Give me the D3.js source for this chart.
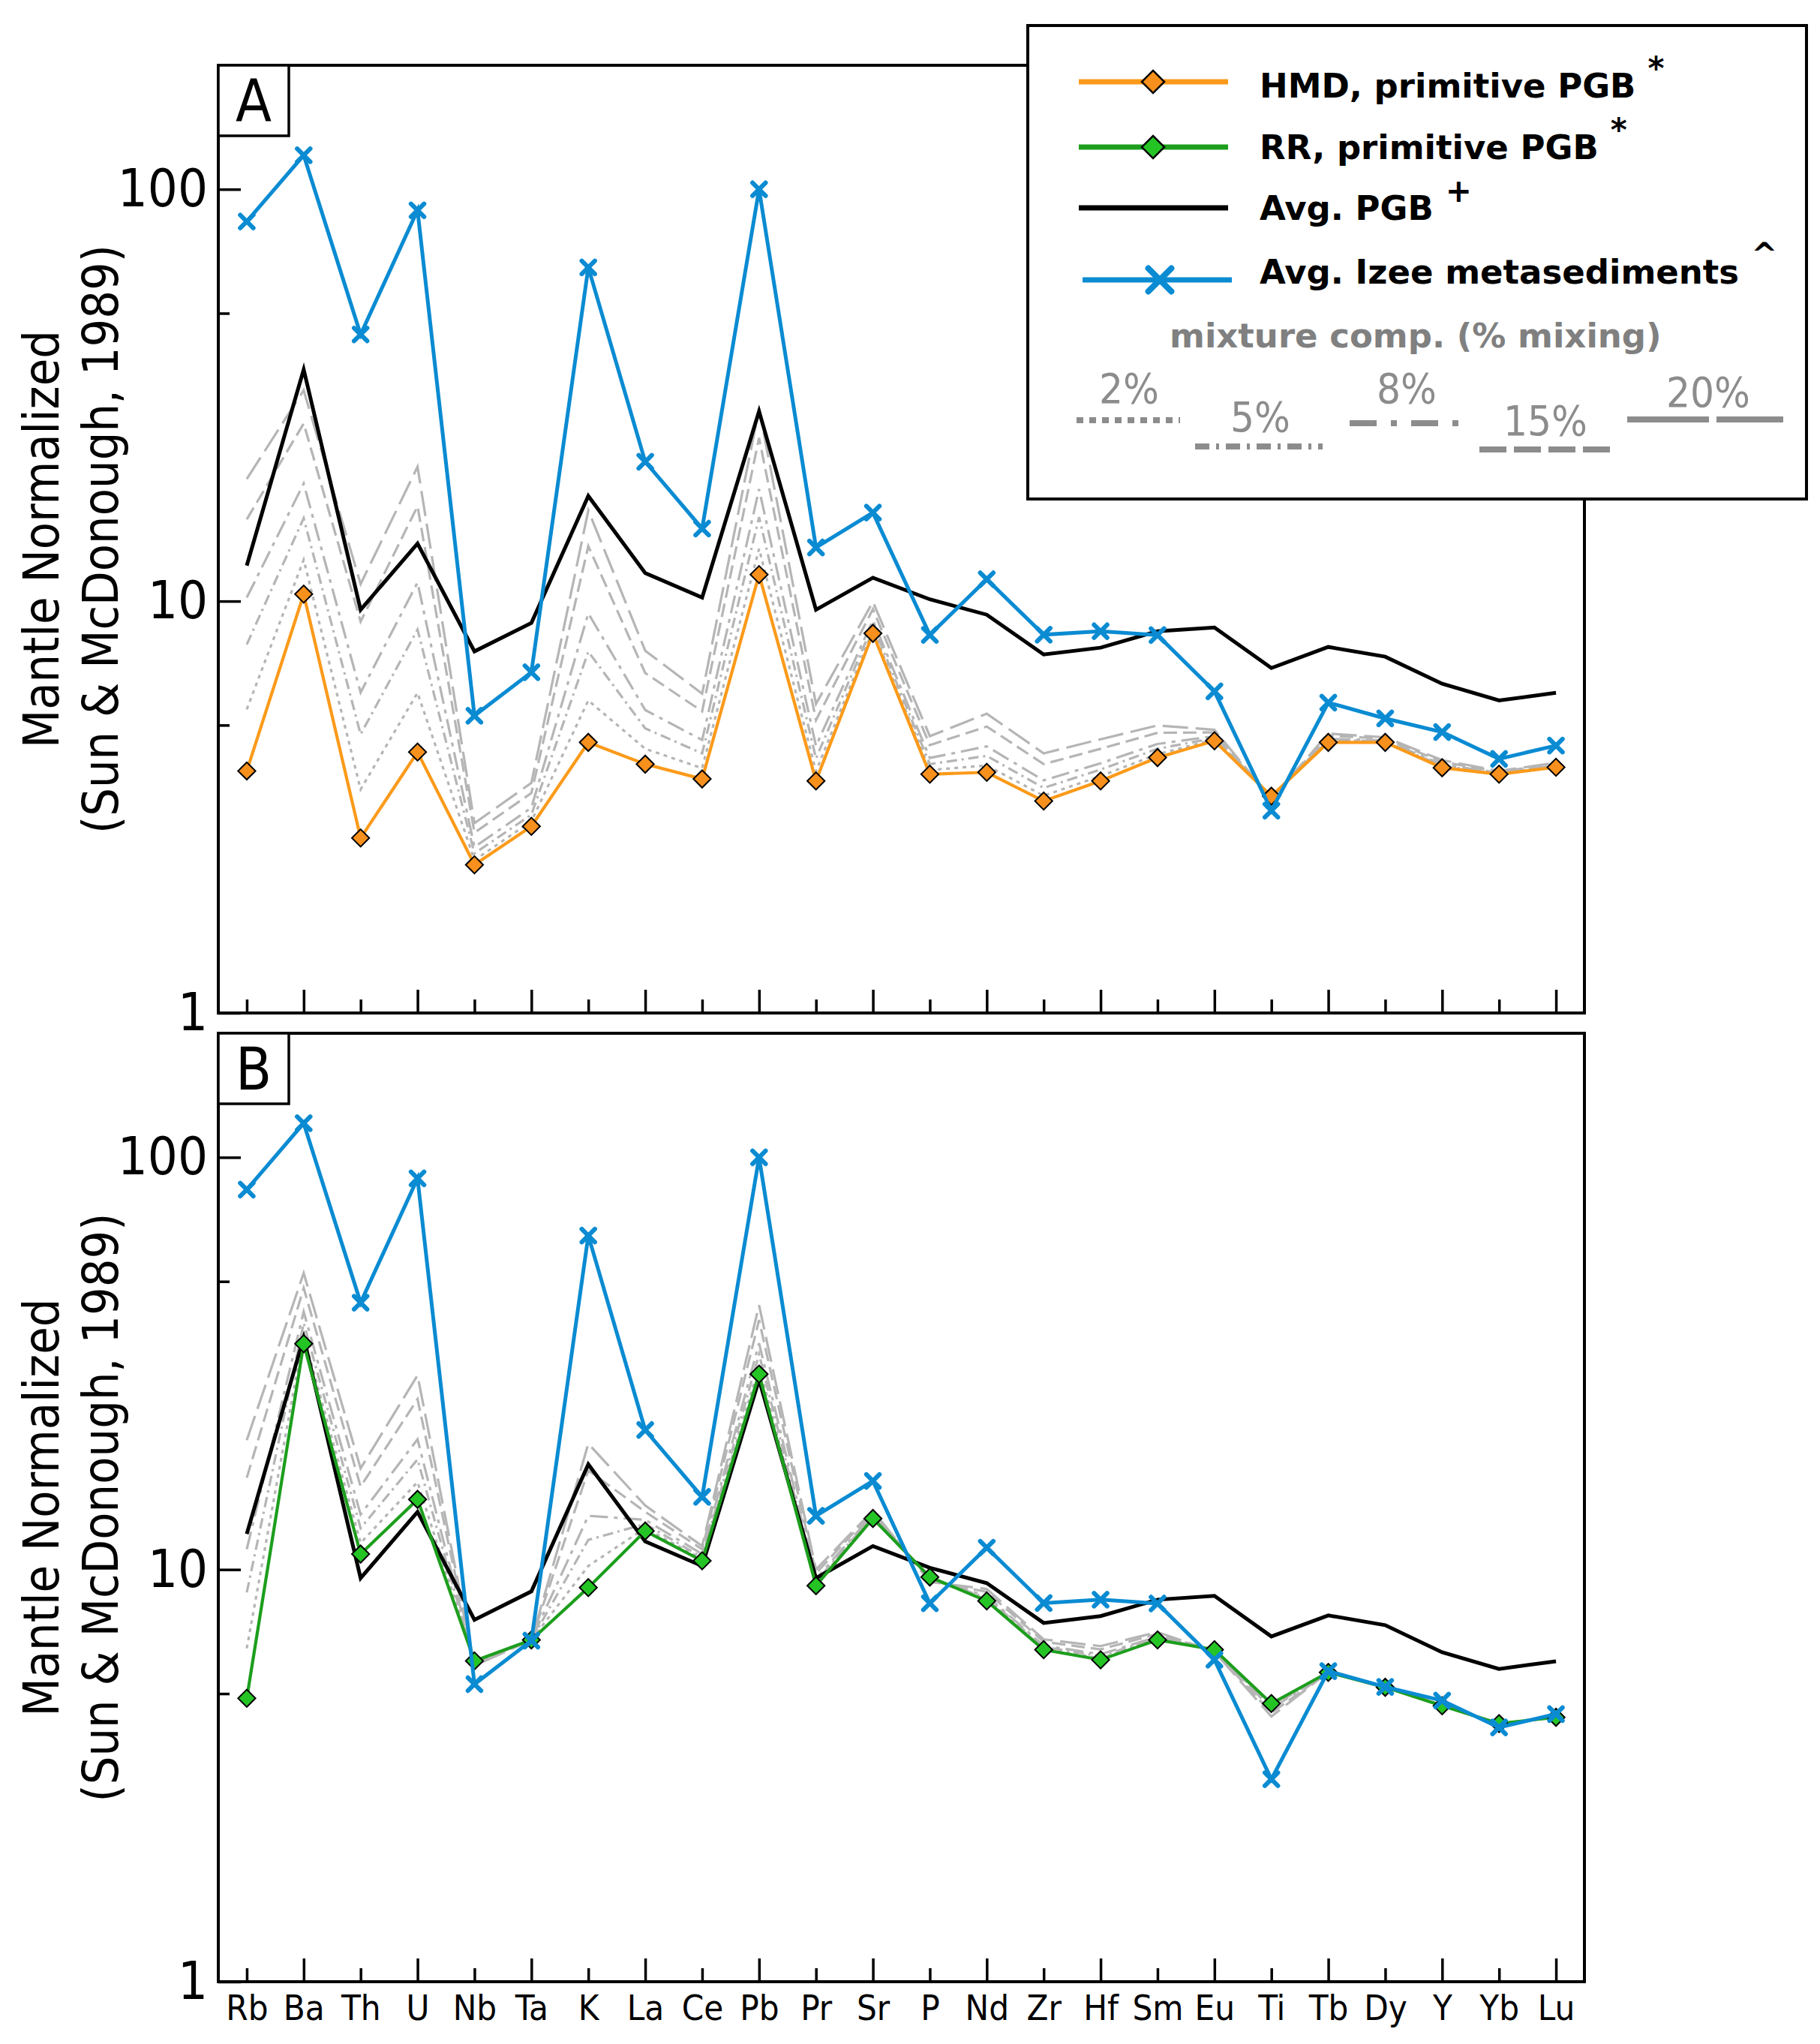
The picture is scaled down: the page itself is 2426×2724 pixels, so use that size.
<!DOCTYPE html>
<html>
<head>
<meta charset="utf-8">
<script src="https://cdn.jsdelivr.net/npm/d3@7"></script>
<style>
  body { margin: 0; background: #fff; }
  svg { display: block; }
</style>
</head>
<body>
<script>
// elements along the x axis
const elements = ["Rb","Ba","Th","U","Nb","Ta","K","La","Ce","Pb","Pr","Sr","P","Nd","Zr","Hf","Sm","Eu","Ti","Tb","Dy","Y","Yb","Lu"];

// mantle normalized values
const izee   = [83.5, 121, 44.4, 88.9, 5.27, 6.72, 64.6, 21.8, 15.0, 100, 13.5, 16.4, 8.28, 11.3, 8.29, 8.45, 8.27, 6.04, 3.10, 5.67, 5.19, 4.81, 4.14, 4.46];
const avgPGB = [12.2, 36.5, 9.53, 13.8, 7.55, 8.85, 18.0, 11.7, 10.2, 28.9, 9.53, 11.4, 10.1, 9.27, 7.42, 7.71, 8.45, 8.63, 6.88, 7.74, 7.33, 6.30, 5.74, 5.99];
const hmd    = [3.87, 10.4, 2.66, 4.30, 2.29, 2.84, 4.54, 4.02, 3.70, 11.6, 3.66, 8.35, 3.80, 3.84, 3.27, 3.66, 4.17, 4.58, 3.36, 4.54, 4.54, 3.94, 3.80, 3.95];
const rr     = [4.87, 35.3, 10.9, 14.8, 6.00, 6.75, 9.04, 12.4, 10.5, 29.8, 9.14, 13.3, 9.59, 8.39, 6.39, 6.04, 6.75, 6.39, 4.73, 5.63, 5.18, 4.67, 4.23, 4.38];

// mixture curves, panel A (HMD + Izee)
const mixA02 = [5.46, 12.6, 3.49, 5.99, 2.35, 2.92, 5.74, 4.38, 3.93, 13.4, 3.86, 8.51, 3.89, 3.99, 3.37, 3.76, 4.25, 4.61, 3.36, 4.56, 4.55, 3.96, 3.81, 3.96];
const mixA05 = [7.85, 15.9, 4.75, 8.53, 2.44, 3.03, 7.54, 4.91, 4.27, 16.0, 4.15, 8.75, 4.02, 4.21, 3.52, 3.90, 4.38, 4.65, 3.35, 4.60, 4.57, 3.98, 3.82, 3.98];
const mixA08 = [10.2, 19.3, 6.00, 11.1, 2.53, 3.15, 9.34, 5.44, 4.60, 18.7, 4.45, 8.99, 4.16, 4.44, 3.67, 4.04, 4.50, 4.70, 3.34, 4.63, 4.59, 4.01, 3.83, 3.99];
const mixA15 = [15.8, 27.0, 8.92, 17.0, 2.74, 3.42, 13.6, 6.69, 5.40, 24.9, 5.14, 9.56, 4.47, 4.96, 4.02, 4.38, 4.79, 4.80, 3.32, 4.71, 4.64, 4.07, 3.85, 4.03];
const mixA20 = [19.8, 32.5, 11.0, 21.2, 2.89, 3.62, 16.6, 7.58, 5.96, 29.3, 5.63, 9.96, 4.70, 5.33, 4.27, 4.62, 4.99, 4.87, 3.31, 4.77, 4.67, 4.11, 3.87, 4.05];

// mixture curves, panel B (RR + Izee)
const mixB02 = [6.44, 37.0, 11.6, 16.3, 5.99, 6.75, 10.2, 12.6, 10.6, 31.2, 9.23, 13.4, 9.56, 8.45, 6.43, 6.09, 6.78, 6.38, 4.70, 5.63, 5.18, 4.67, 4.23, 4.38];
const mixB05 = [8.80, 39.6, 12.6, 18.5, 5.96, 6.75, 11.8, 12.9, 10.7, 33.3, 9.36, 13.5, 9.52, 8.54, 6.49, 6.16, 6.83, 6.37, 4.65, 5.63, 5.18, 4.68, 4.23, 4.38];
const mixB08 = [11.2, 42.2, 13.6, 20.7, 5.94, 6.75, 13.5, 13.2, 10.9, 35.4, 9.49, 13.6, 9.49, 8.62, 6.54, 6.23, 6.87, 6.36, 4.60, 5.63, 5.18, 4.68, 4.22, 4.39];
const mixB15 = [16.7, 48.2, 15.9, 25.9, 5.89, 6.75, 17.4, 13.8, 11.2, 40.3, 9.79, 13.8, 9.39, 8.83, 6.68, 6.40, 6.98, 6.34, 4.49, 5.64, 5.18, 4.69, 4.22, 4.39];
const mixB20 = [20.6, 52.4, 17.6, 29.6, 5.85, 6.74, 20.2, 14.3, 11.4, 43.8, 10.0, 13.9, 9.33, 8.97, 6.77, 6.52, 7.05, 6.32, 4.40, 5.64, 5.18, 4.70, 4.21, 4.40];

const mixLabels = ["2%", "5%", "8%", "15%", "20%"];
const yTicks = [1, 5, 10, 50, 100];
const legendLabels = ["HMD, primitive PGB", "RR, primitive PGB", "Avg. PGB", "Avg. Izee metasediments"];
const legendSups = ["*", "*", "+", "^"];

// styles
const ORANGE = "#fb9a1a", ORANGE_FILL = "#f7901c";
const GREEN = "#1d9e1d", GREEN_FILL = "#25c425";
const BLUE = "#0a8bd2";
const GRAY = "#b5b5b5", GRAY_DARK = "#8c8c8c";
const dashPlot = ["5,6", "14,6,3,6", "24,8,5,8", "18,8", "34,10"];
const dashLegend = ["9,8", "19,9,4,9", "36,19,8,19", "36,10", "109,10"];
const FONT = "'DejaVu Sans Condensed', 'DejaVu Sans', sans-serif";
const FONT_BOLD = "'DejaVu Sans', sans-serif";

const width = 2426, height = 2724;
const left = 291, right = 2112;

const svg = d3.select("body").append("svg")
    .attr("width", width)
    .attr("height", height);

const x = d3.scalePoint()
    .domain(elements)
    .range([left, right])
    .padding(0.5);

const symX = d3.symbolX || d3.symbolCross;

function makePanel(top, bottom, letter, base, baseColor, baseFill, mixes, showLabels) {
    const y = d3.scaleLog().domain([1, 200]).range([bottom, top]);
    const g = svg.append("g");

    const line = d3.line()
        .x((d, i) => x(elements[i]))
        .y(d => y(d));

    // mixture curves
    mixes.forEach(function(m, k) {
        g.append("path")
            .attr("d", line(m))
            .attr("fill", "none")
            .attr("stroke", GRAY)
            .attr("stroke-width", 3.2)
            .attr("stroke-dasharray", dashPlot[k]);
    });

    g.append("path")
        .attr("d", line(avgPGB))
        .attr("fill", "none")
        .attr("stroke", "#000")
        .attr("stroke-width", 5)
        .attr("stroke-linejoin", "miter");

    g.append("path")
        .attr("d", line(base))
        .attr("fill", "none")
        .attr("stroke", baseColor)
        .attr("stroke-width", 4.2);

    g.selectAll(".dia")
        .data(base)
        .enter()
        .append("path")
        .attr("d", d3.symbol(d3.symbolSquare, 270)())
        .attr("transform", (d, i) => "translate(" + x(elements[i]) + "," + y(d) + ") rotate(45)")
        .attr("fill", baseFill)
        .attr("stroke", "#000")
        .attr("stroke-width", 2);

    g.append("path")
        .attr("d", line(izee))
        .attr("fill", "none")
        .attr("stroke", BLUE)
        .attr("stroke-width", 5);

    g.selectAll(".xm")
        .data(izee)
        .enter()
        .append("path")
        .attr("d", d3.symbol(symX, 200)())
        .attr("transform", (d, i) => "translate(" + x(elements[i]) + "," + y(d) + ")")
        .attr("fill", "none")
        .attr("stroke", BLUE)
        .attr("stroke-width", 6)
        .attr("stroke-linecap", "round");

    // axes
    const yAxis = g.append("g")
        .attr("transform", "translate(" + left + ",0)")
        .call(d3.axisLeft(y)
            .tickValues(yTicks)
            .tickSize(-30)
            .tickSizeOuter(0)
            .tickPadding(14)
            .tickFormat(d => (d === 1 || d === 10 || d === 100) ? d : ""));
    yAxis.select(".domain").remove();
    yAxis.selectAll(".tick line")
        .attr("stroke-width", 3.5)
        .attr("x2", d => (d === 5 || d === 50) ? 15 : 30);
    yAxis.selectAll(".tick text")
        .attr("font-family", FONT)
        .attr("font-size", 70)
        .attr("fill", "#000");

    const xAxis = g.append("g")
        .attr("transform", "translate(0," + bottom + ")")
        .call(d3.axisBottom(x)
            .tickSize(-31)
            .tickSizeOuter(0)
            .tickPadding(18)
            .tickFormat(d => showLabels ? d : ""));
    xAxis.select(".domain").remove();
    xAxis.selectAll(".tick line")
        .attr("stroke-width", 3.5)
        .attr("y2", (d, i) => i % 2 === 0 ? -18 : -31);
    xAxis.selectAll(".tick text")
        .attr("font-family", FONT)
        .attr("font-size", 47)
        .attr("fill", "#000");

    // frame
    g.append("rect")
        .attr("x", left)
        .attr("y", top)
        .attr("width", right - left)
        .attr("height", bottom - top)
        .attr("fill", "none")
        .attr("stroke", "#000")
        .attr("stroke-width", 4);

    // panel letter
    g.append("rect")
        .attr("x", left)
        .attr("y", top)
        .attr("width", 94)
        .attr("height", 94)
        .attr("fill", "#fff")
        .attr("stroke", "#000")
        .attr("stroke-width", 3.5);
    g.append("text")
        .attr("x", left + 47)
        .attr("y", top + 75)
        .attr("text-anchor", "middle")
        .attr("font-family", FONT)
        .attr("font-size", 78)
        .text(letter);

    // y title
    const cy = (top + bottom) / 2;
    g.append("text")
        .attr("transform", "translate(78," + cy + ") rotate(-90)")
        .attr("text-anchor", "middle")
        .attr("font-family", FONT)
        .attr("font-size", 66)
        .text("Mantle Normalized");
    g.append("text")
        .attr("transform", "translate(157," + cy + ") rotate(-90)")
        .attr("text-anchor", "middle")
        .attr("font-family", FONT)
        .attr("font-size", 66)
        .text("(Sun & McDonough, 1989)");
}

makePanel(87, 1350, "A", hmd, ORANGE, ORANGE_FILL, [mixA02, mixA05, mixA08, mixA15, mixA20], false);
makePanel(1377, 2641, "B", rr, GREEN, GREEN_FILL, [mixB02, mixB05, mixB08, mixB15, mixB20], true);

makeLegend();

function makeLegend() {
    const lg = svg.append("g");
    lg.append("rect")
        .attr("x", 1370)
        .attr("y", 34)
        .attr("width", 1038)
        .attr("height", 631)
        .attr("fill", "#fff")
        .attr("stroke", "#000")
        .attr("stroke-width", 4);

    const lineY = [109, 196, 277, 373];
    const textY = [130, 212, 293, 378];
    const colors = [ORANGE, GREEN, "#000", BLUE];

    legendLabels.forEach(function(lab, i) {
        const x0 = i === 3 ? 1443 : 1438;
        lg.append("line")
            .attr("x1", x0).attr("x2", x0 + 199)
            .attr("y1", lineY[i]).attr("y2", lineY[i])
            .attr("stroke", colors[i])
            .attr("stroke-width", 7);
        if (i < 2) {
            lg.append("path")
                .attr("d", d3.symbol(d3.symbolSquare, 450)())
                .attr("transform", "translate(" + (x0 + 99) + "," + lineY[i] + ") rotate(45)")
                .attr("fill", i === 0 ? ORANGE_FILL : GREEN_FILL)
                .attr("stroke", "#000")
                .attr("stroke-width", 2.5);
        }
        if (i === 3) {
            lg.append("path")
                .attr("d", d3.symbol(symX, 620)())
                .attr("transform", "translate(" + (x0 + 103) + "," + lineY[i] + ")")
                .attr("fill", "none")
                .attr("stroke", BLUE)
                .attr("stroke-width", 8)
                .attr("stroke-linecap", "round");
        }
        const t = lg.append("text")
            .attr("x", 1679)
            .attr("y", textY[i])
            .attr("font-family", FONT_BOLD)
            .attr("font-weight", "bold")
            .attr("font-size", 45)
            .text(lab);
        t.append("tspan")
            .attr("dx", 16)
            .attr("dy", -24)
            .attr("font-size", 42)
            .text(legendSups[i]);
    });

    lg.append("text")
        .attr("x", 1559)
        .attr("y", 463)
        .attr("font-family", FONT_BOLD)
        .attr("font-weight", "bold")
        .attr("font-size", 45)
        .attr("fill", "#808080")
        .text("mixture comp. (% mixing)");

    const pctX = [1505, 1680, 1875, 2060, 2277];
    const pctY = [537, 575, 537, 580, 542];
    const segX = [[1435, 1573], [1593, 1763], [1799, 1945], [1972, 2146], [2169, 2377]];
    const segY = [560, 595, 564, 599, 559];

    mixLabels.forEach(function(lab, k) {
        lg.append("text")
            .attr("x", pctX[k])
            .attr("y", pctY[k])
            .attr("text-anchor", "middle")
            .attr("font-family", FONT)
            .attr("font-size", 56)
            .attr("fill", GRAY_DARK)
            .text(lab);
        lg.append("line")
            .attr("x1", segX[k][0]).attr("x2", segX[k][1])
            .attr("y1", segY[k]).attr("y2", segY[k])
            .attr("stroke", GRAY_DARK)
            .attr("stroke-width", 8)
            .attr("stroke-dasharray", dashLegend[k]);
    });
}
</script>
</body>
</html>
